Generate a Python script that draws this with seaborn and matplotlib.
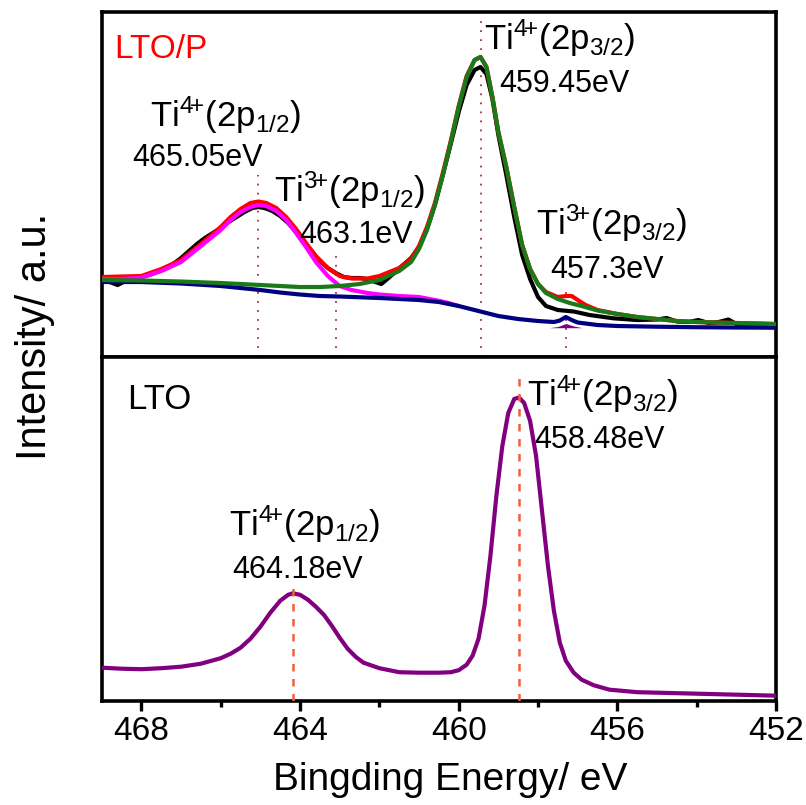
import matplotlib
matplotlib.use("Agg")
import matplotlib.pyplot as plt
import seaborn as sns
from matplotlib.ticker import MultipleLocator

sns.set_style("white")
plt.rcParams['font.family'] = ['Liberation Sans', 'DejaVu Sans']
plt.rcParams['mathtext.fontset'] = 'custom'
plt.rcParams['mathtext.rm'] = 'Liberation Sans'
plt.rcParams['mathtext.it'] = 'Liberation Sans:italic'
plt.rcParams['mathtext.bf'] = 'Liberation Sans:bold'
plt.rcParams['text.color'] = 'black'
plt.rcParams['axes.labelcolor'] = 'black'
plt.rcParams['xtick.color'] = 'black'
plt.rcParams['ytick.color'] = 'black'

# ---------------- LTO/P : Ti 2p spectrum and peak fit ----------------
# measured spectrum
raw_be = [469.0, 468.8, 468.6, 468.4, 468.2, 468.0, 467.8, 467.6, 467.4, 467.2,
          467.0, 466.8, 466.6, 466.4, 466.2, 466.0, 465.8, 465.6, 465.4, 465.2,
          465.05, 464.9, 464.7, 464.5, 464.3, 464.1, 463.9, 463.7, 463.5, 463.3,
          463.1, 462.9, 462.7, 462.5, 462.3, 462.1, 461.95, 461.8, 461.6, 461.4,
          461.2, 461.0, 460.8, 460.6, 460.4, 460.2, 460.0, 459.8, 459.6, 459.45,
          459.3, 459.15, 459.0, 458.8, 458.6, 458.4, 458.2, 458.0, 457.8, 457.5,
          457.1, 456.7, 456.1, 455.5, 455.0, 454.76, 454.5, 454.2, 453.96, 453.7,
          453.5, 453.2, 453.0, 452.8, 452.6, 452.3, 452.0]
raw_int = [76, 75, 72, 76, 78, 80, 82, 85, 88, 93,
           99, 106, 113, 119, 124, 129, 135, 140, 145, 149,
           150, 149, 146, 141, 134, 125, 114, 105, 96, 89,
           84, 80, 79, 79, 78, 75, 73, 78, 85, 92,
           99, 110, 128, 152, 182, 213, 245, 272, 287, 290,
           283, 258, 222, 182, 140, 102, 78, 60, 51, 47,
           45.5, 42, 38.7, 37, 37.5, 39, 35.5, 35, 37, 34,
           34.5, 37.5, 33, 30, 33, 33, 32.5]

# fitted envelope
env_be = [469.0, 468.5, 468.0, 467.5, 467.0, 466.5, 466.0, 465.75, 465.5, 465.25,
          465.05, 464.85, 464.6, 464.35, 464.1, 463.85, 463.6, 463.3, 463.0, 462.7,
          462.3, 462.0, 461.5, 461.2, 461.0, 460.8, 460.6, 460.4, 460.2, 460.0,
          459.8, 459.6, 459.45, 459.3, 459.15, 459.0, 458.8, 458.6, 458.4, 458.2,
          458.0, 457.8, 457.5, 457.3, 457.15, 457.0, 456.8, 456.5, 456.0, 455.5,
          455.0, 454.5, 454.0, 453.0, 452.0]
env_int = [80, 80.5, 81, 88, 97, 113, 130, 140, 148, 154,
           155.5, 154, 149, 140, 128, 114, 101, 89, 81, 78.5,
           78.5, 81, 89, 98, 111, 130, 154, 184, 216, 251,
           281, 297, 300, 290, 260, 225, 190, 150, 112, 88,
           73, 65, 60, 61, 61, 57, 52, 47, 43, 40,
           38, 36, 35, 34, 33]

# Ti4+ 2p1/2 component (on background)
p12_be = [469.0, 468.5, 468.0, 467.5, 467.0, 466.5, 466.0, 465.75, 465.5, 465.25,
          465.05, 464.85, 464.6, 464.35, 464.1, 463.85, 463.6, 463.3, 463.0, 462.7,
          462.3, 462.0, 461.5, 461.0, 460.6, 460.3, 460.0]
p12_int = [78, 78, 79.5, 86, 95, 111, 127, 137, 145, 150,
           152, 151, 146, 137, 124, 110, 95, 81, 71, 67,
           64, 62.5, 61, 60, 57, 54.5, 51]

# Ti4+ 2p3/2 component (on background)
p32_be = [469.0, 468.0, 467.0, 466.0, 465.0, 464.0, 463.5, 463.0, 462.5, 462.0,
          461.5, 461.2, 461.0, 460.8, 460.6, 460.4, 460.2, 460.0, 459.8, 459.6,
          459.45, 459.3, 459.15, 459.0, 458.8, 458.6, 458.4, 458.2, 458.0, 457.8,
          457.5, 457.2, 456.9, 456.5, 456.0, 455.5, 455.0, 454.5, 454.0, 453.0,
          452.0]
p32_int = [77, 76.5, 75.5, 74, 72, 70, 70, 71, 73, 77,
           86, 95, 108, 127, 152, 182, 215, 250, 280, 297,
           300, 290, 260, 225, 190, 150, 112, 88, 73, 64,
           58, 54, 51, 46.5, 43, 40, 38, 36, 35, 34,
           33]

# background with the Ti3+ 2p3/2 contribution
bg_be = [469.0, 468.5, 468.0, 467.0, 466.0, 465.5, 465.0, 464.5, 464.0, 463.5,
         463.0, 462.0, 461.0, 460.5, 460.0, 459.5, 459.0, 458.5, 458.0, 457.6,
         457.45, 457.3, 457.15, 457.0, 456.5, 456.0, 455.0, 454.0, 453.0, 452.0]
bg_int = [75, 75, 75, 73.5, 71, 69, 67, 64.5, 62.5, 61,
          60.5, 59, 57, 55, 51, 46, 41, 38, 36, 35,
          36.5, 40, 37, 34.5, 32, 31, 30.3, 29.8, 29.5, 29.3]

# Ti3+ 2p3/2 component
ti3_be = [457.7, 457.5, 457.3, 457.1, 456.9]
ti3_int = [29.4, 30.5, 33.5, 31, 29.4]
ti3_base = 29.3

# ---------------- LTO : Ti 2p spectrum ----------------
lto_be = [469.0, 468.5, 468.0, 467.5, 467.0, 466.5, 466.0, 465.75, 465.5, 465.25,
          465.0, 464.75, 464.5, 464.3, 464.18, 464.0, 463.8, 463.6, 463.4, 463.2,
          463.0, 462.8, 462.6, 462.4, 462.0, 461.5, 461.0, 460.5, 460.2, 460.0,
          459.8, 459.65, 459.5, 459.35, 459.2, 459.05, 458.9, 458.75, 458.6, 458.48,
          458.35, 458.2, 458.05, 457.9, 457.75, 457.6, 457.45, 457.3, 457.1, 456.9,
          456.6, 456.2, 455.5, 455.0, 454.5, 454.0, 453.5, 453.0, 452.5, 452.0]
lto_int = [33, 32, 31.5, 32.5, 34, 37, 42.5, 47, 53, 62,
           74, 88, 100, 106, 107.5, 106, 101, 94, 86, 75,
           63, 52, 44, 38, 32.5, 28.5, 28, 28, 28.5, 30.5,
           36, 45, 62, 95, 145, 205, 255, 288, 302, 303.5,
           298, 280, 245, 190, 135, 90, 58, 40, 28, 21,
           15.5, 11, 8.5, 8, 7.5, 7, 6.5, 6, 5.5, 5]

# peak positions and label text
top_peaks = [465.05, 463.1, 459.45, 457.3]
top_line_tops = [182, 105, 337, 72]
top_ions = ["4+", "3+", "4+", "3+"]
top_orbits = ["1/2", "1/2", "3/2", "3/2"]
top_energies = ["465.05eV", "463.1eV", "459.45eV", "457.3eV"]
top_ion_pos = [(467.79, 230), (464.65, 155), (459.36, 307), (458.05, 122)]
top_en_pos = [(468.22, 191), (464.02, 114), (458.98, 265), (457.69, 79)]

bot_peaks = [464.18, 458.48]
bot_line_tops = [120, 325]
bot_ions = ["4+", "4+"]
bot_orbits = ["1/2", "3/2"]
bot_energies = ["464.18eV", "458.48eV"]
bot_ion_pos = [(465.79, 165), (458.28, 295)]
bot_en_pos = [(465.72, 123), (458.10, 253)]

x_major = [468, 464, 460, 456, 452]


def ti_label(ion, orbit):
    num, sign = ion[0], ion[1]
    return (r"Ti$^{\mathrm{" + num + r"}\!\mathrm{" + sign + r"}}$(2p$_{\mathrm{"
            + orbit + r"}}$)")


fig = plt.figure(figsize=(8.06, 8.05), dpi=100)
ax_top = fig.add_axes([0.1262, 0.5565, 0.8366, 0.4286])
ax_bot = fig.add_axes([0.1262, 0.1296, 0.8366, 0.4269])

lw = 3.0
# upper panel
sns.lineplot(x=raw_be, y=raw_int, ax=ax_top, color="black", linewidth=lw,
             estimator=None, zorder=2)
sns.lineplot(x=env_be, y=env_int, ax=ax_top, color="#ff0000", linewidth=lw,
             estimator=None, zorder=3)
sns.lineplot(x=p12_be, y=p12_int, ax=ax_top, color="#ff00ff", linewidth=lw,
             estimator=None, zorder=4)
ax_top.fill_between(ti3_be, ti3_base, ti3_int, color="#800080", zorder=4, lw=0)
sns.lineplot(x=bg_be, y=bg_int, ax=ax_top, color="#000080", linewidth=lw,
             estimator=None, zorder=5)
sns.lineplot(x=p32_be, y=p32_int, ax=ax_top, color="#1a7a1a", linewidth=lw,
             estimator=None, zorder=6)

for xp, yt in zip(top_peaks, top_line_tops):
    ax_top.plot([xp, xp], [0, yt], color="#a8323c", linewidth=1.3,
                linestyle=(0, (1, 4)), zorder=1)

for ion, orb, (x0, y0) in zip(top_ions, top_orbits, top_ion_pos):
    ax_top.text(x0, y0, ti_label(ion, orb), fontsize=25, ha="left",
                va="baseline", zorder=8)
for en, (x0, y0) in zip(top_energies, top_en_pos):
    ax_top.text(x0, y0, en, fontsize=22, ha="left", va="baseline", zorder=8)
ax_top.text(468.68, 299, "LTO/P", fontsize=24, color="#ff0000", ha="left",
            va="baseline")

# lower panel
sns.lineplot(x=lto_be, y=lto_int, ax=ax_bot, color="#800080", linewidth=lw,
             estimator=None, zorder=3)
for xp, yt in zip(bot_peaks, bot_line_tops):
    ax_bot.plot([xp, xp], [0, yt], color="#f0603c", linewidth=1.8,
                linestyle=(0, (3, 3)), zorder=4)
for ion, orb, (x0, y0) in zip(bot_ions, bot_orbits, bot_ion_pos):
    ax_bot.text(x0, y0, ti_label(ion, orb), fontsize=25, ha="left",
                va="baseline")
for en, (x0, y0) in zip(bot_energies, bot_en_pos):
    ax_bot.text(x0, y0, en, fontsize=22, ha="left", va="baseline")
ax_bot.text(468.37, 292, "LTO", fontsize=25, ha="left", va="baseline")

for ax in (ax_top, ax_bot):
    ax.set_xlim(469, 452)
    ax.set_yticks([])
    ax.set_xlabel("")
    ax.set_ylabel("")
    for sp in ax.spines.values():
        sp.set_visible(True)
        sp.set_linewidth(2.6)
        sp.set_color("black")
    ax.set_facecolor("white")

ax_top.set_ylim(0, 345)
ax_bot.set_ylim(0, 344)
ax_top.set_xticks([])

ax_bot.set_xticks(x_major)
ax_bot.set_xticklabels([str(v) for v in x_major])
ax_bot.xaxis.set_minor_locator(MultipleLocator(2))
ax_bot.tick_params(axis="x", which="major", direction="out", length=7,
                   width=2.4, labelsize=24, pad=4, bottom=True, top=False,
                   colors="black")
ax_bot.tick_params(axis="x", which="minor", direction="out", length=4.5,
                   width=2.4, bottom=True, top=False, colors="black")

fig.text(0.5583, 1 - 790 / 805, "Bingding Energy/ eV", fontsize=28,
         ha="center", va="baseline")
fig.text(0.043, 1 - 336 / 805, "Intensity/ a.u.", fontsize=30, rotation=90,
         ha="center", va="center")

fig.savefig("out.png", dpi=100, facecolor="white")
